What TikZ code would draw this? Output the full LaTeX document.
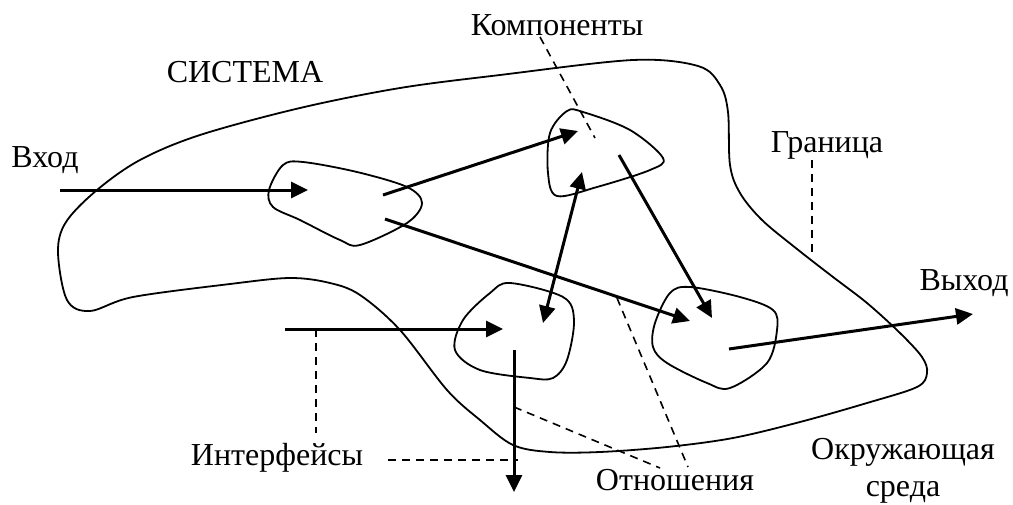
\documentclass[tikz,border=0pt]{standalone}
\usepackage{fontspec}
\setmainfont{Liberation Serif}
\usetikzlibrary{arrows.meta}

\tikzset{
  blob/.style={line width=1.8pt},
  flow/.style={line width=3pt,-{Triangle[length=17pt,width=16pt]}},
  flowboth/.style={line width=3pt,{Triangle[length=17pt,width=16pt]}-{Triangle[length=17pt,width=16pt]}},
  lead/.style={line width=1.6pt,dash pattern=on 8pt off 6pt},
  lbl/.style={font=\fontsize{32}{37}\selectfont,inner sep=0pt}
}

\begin{document}
\begin{tikzpicture}[x=1pt,y=-1pt]
  \useasboundingbox (0,0) rectangle (1013,504);

  % System boundary
  \draw[blob] plot[smooth cycle,tension=0.55] coordinates {
    (58,252) (66,222) (97,190) (140,160) (200,135) (300,108) (400,88) (500,75)
    (633,60) (698,66) (720,85) (728,112) (730,165) (740,193) (762,220) (797,249)
    (833,277) (867,303) (900,333) (922,357) (927,373) (917,387) (867,403)
    (800,422) (733,438) (667,447) (600,452) (550,452) (513,445) (480,420)
    (447,390) (400,330) (360,295) (330,283) (290,278) (230,284) (133,297)
    (90,311) (67,300)};

  % Components
  \draw[blob] plot[smooth cycle,tension=0.55] coordinates {
    (269,190) (283,165) (303,162) (357,172) (407,187) (422,203) (407,223)
    (360,245) (340,240) (300,220) (273,207)};
  \draw[blob] plot[smooth cycle,tension=0.55] coordinates {
    (567,111) (583,112) (630,130) (663,158) (650,170) (597,187) (557,196)
    (548,173) (550,133)};
  \draw[blob] plot[smooth cycle,tension=0.55] coordinates {
    (510,283) (563,297) (574,320) (567,360) (553,378) (530,378) (480,370)
    (455,350) (463,320) (490,293)};
  \draw[blob] plot[smooth cycle,tension=0.55] coordinates {
    (670,293) (690,287) (740,297) (773,310) (777,330) (767,363) (730,388)
    (707,383) (667,363) (653,347) (655,323)};

  % Arrow ends
  \coordinate (in) at (60,190);
  \coordinate (c1in) at (308,190);
  \coordinate (c1a) at (383,195);
  \coordinate (c1b) at (385,219);
  \coordinate (c2in) at (578,131);
  \coordinate (c2out) at (619,155);
  \coordinate (c2low) at (582,172);
  \coordinate (c3up) at (543,323);
  \coordinate (if) at (285,329);
  \coordinate (c3in) at (503,329);
  \coordinate (c3out) at (514,350);
  \coordinate (down) at (514,492);
  \coordinate (c4a) at (690,321);
  \coordinate (c4b) at (712,318);
  \coordinate (c4out) at (729,349);
  \coordinate (out) at (973,314);

  % Flows
  \draw[flow] (in) -- (c1in);
  \draw[flow] (c1a) -- (c2in);
  \draw[flow] (c1b) -- (c4a);
  \draw[flow] (c2out) -- (c4b);
  \draw[flowboth] (c3up) -- (c2low);
  \draw[flow] (if) -- (c3in);
  \draw[flow] (c3out) -- (down);
  \draw[flow] (c4out) -- (out);

  % Labels
  \node[lbl] (sys) at (245,72) {СИСТЕМА};
  \node[lbl] (vhod) at (45,160) {Вход};
  \node[lbl] (komp) at (557,25) {Компоненты};
  \node[lbl] (gran) at (827,145) {Граница};
  \node[lbl] (vyhod) at (964,283) {Выход};
  \node[lbl] (intf) at (277,458) {Интерфейсы};
  \node[lbl] (otn) at (675,480) {Отношения};
  \node[lbl,align=center] (sreda) at (903,471) {Окружающая\\среда};

  % Leaders
  \coordinate (k1) at (540,37);
  \coordinate (k2) at (595,138);
  \coordinate (g1) at (812,160);
  \coordinate (g2) at (812,257);
  \coordinate (i1) at (316,329);
  \coordinate (i2) at (316,433);
  \coordinate (i3) at (388,460);
  \coordinate (i4) at (518,460);
  \coordinate (o1) at (514,407);
  \coordinate (o2) at (660,468);
  \coordinate (o3) at (617,298);
  \coordinate (o4) at (688,467);
  \draw[lead] (k1) -- (k2);
  \draw[lead] (g1) -- (g2);
  \draw[lead] (i1) -- (i2);
  \draw[lead] (i3) -- (i4);
  \draw[lead] (o1) -- (o2);
  \draw[lead] (o3) -- (o4);
\end{tikzpicture}
\end{document}
